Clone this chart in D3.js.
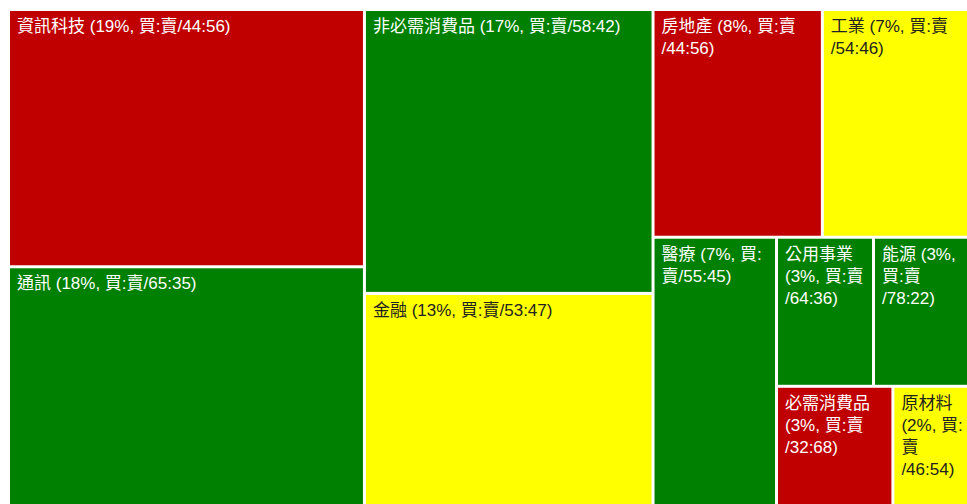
<!DOCTYPE html>
<html>
<head>
<meta charset="utf-8">
<script src="https://cdn.jsdelivr.net/npm/d3@7"></script>
<style>
  body { margin: 0; background: #fff; overflow: hidden; }
  text { font-family: "Liberation Sans", Arial, "Noto Sans CJK TC", sans-serif; font-size: 17px; }
</style>
</head>
<body>
<script>
// sector weights (% of market) and buy:sell split
const sectors = ['資訊科技', '通訊', '非必需消費品', '金融', '房地產', '工業', '醫療', '公用事業', '能源', '必需消費品', '原材料'];
const weights = [19, 18, 17, 13, 8, 7, 7, 3, 3, 3, 2];
const buyPct = [44, 65, 58, 53, 44, 54, 55, 64, 78, 32, 46];
const sellPct = [56, 35, 42, 47, 56, 46, 45, 36, 22, 68, 54];

const w = 967;
const h = 504;
const padLeft = 10;
const padTop = 11;
const boxW = 959;
const boxH = 498;

const color = d3.scaleThreshold()
  .domain([46, 55])
  .range(['#c00000', '#ffff00', '#008000']);
const textColor = d3.scaleThreshold()
  .domain([46, 55])
  .range(['#ffffff', '#222222', '#ffffff']);

// squarify variant: strips along the short side, last strip cut along the long side
const RATIO = 0.9;
function tile(parent, x0, y0, x1, y1) {
  const nodes = parent.children;
  const n = nodes.length;
  let value = parent.value;
  let i0 = 0;
  while (i0 < n) {
    const dx = x1 - x0, dy = y1 - y0;
    let i1 = i0;
    let sum = nodes[i1++].value;
    let minV = sum, maxV = sum;
    const alpha = Math.max(dy / dx, dx / dy) / (value * RATIO);
    let beta = sum * sum * alpha;
    let best = Math.max(maxV / beta, beta / minV);
    for (; i1 < n; ++i1) {
      const v = nodes[i1].value;
      const s = sum + v, mn = Math.min(minV, v), mx = Math.max(maxV, v);
      beta = s * s * alpha;
      const r = Math.max(mx / beta, beta / mn);
      if (r > best) break;
      sum = s; minV = mn; maxV = mx; best = r;
    }
    const row = { value: sum, children: nodes.slice(i0, i1) };
    const last = i1 === n;
    const dice = last ? dx >= dy : dx < dy;
    if (dice) {
      d3.treemapDice(row, x0, y0, x1, last ? y1 : (y0 += dy * sum / value));
    } else {
      d3.treemapSlice(row, x0, y0, last ? x1 : (x0 += dx * sum / value), y1);
    }
    value -= sum;
    i0 = i1;
  }
}

const data = sectors.map((name, i) => ({ name, weight: weights[i], buy: buyPct[i], sell: sellPct[i] }));

const root = d3.hierarchy({ children: data })
  .sum((d) => d.weight || 0)
  .sort((a, b) => b.value - a.value);

d3.treemap()
  .tile(tile)
  .size([boxW, boxH])
  .paddingInner(3)(root);

const svg = d3.select('body').append('svg').attr('width', w).attr('height', h);
const g = svg.append('g').attr('transform', `translate(${padLeft},${padTop})`);

const cell = g.selectAll('g')
  .data(root.leaves())
  .enter()
  .append('g')
  .attr('transform', (d) => `translate(${d.x0},${d.y0})`);

cell.append('rect')
  .attr('width', (d) => d.x1 - d.x0)
  .attr('height', (d) => d.y1 - d.y0)
  .attr('fill', (d) => color(d.data.buy));

// measure helper for wrapping
const probe = svg.append('text').attr('x', -1000).attr('y', -1000);
function measure(s) {
  probe.text(s);
  return probe.node().getComputedTextLength();
}

function wrap(label, maxW) {
  const tokens = label.match(/[\u3400-\u9fff][:：]?|\s+|\/[^\s\u3400-\u9fff]*|[^\s\u3400-\u9fff\/]+/g);
  const lines = [];
  let line = '';
  tokens.forEach((t) => {
    if (line === '' && /^\s+$/.test(t)) return;
    const test = line + t;
    if (line !== '' && measure(test.trimEnd()) > maxW) {
      lines.push(line.trimEnd());
      line = /^\s+$/.test(t) ? '' : t;
    } else {
      line = test;
    }
  });
  if (line.trim() !== '') lines.push(line.trimEnd());
  return lines;
}

cell.each(function (d) {
  const label = `${d.data.name} (${d.data.weight}%, 買:賣/${d.data.buy}:${d.data.sell})`;
  const lines = wrap(label, d.x1 - d.x0 - 10);
  const t = d3.select(this).append('text')
    .attr('x', 7)
    .attr('y', 21)
    .attr('fill', textColor(d.data.buy));
  t.selectAll('tspan')
    .data(lines)
    .enter()
    .append('tspan')
    .attr('x', 7)
    .attr('dy', (l, i) => (i === 0 ? 0 : 22))
    .text((l) => l);
});

probe.remove();
</script>
</body>
</html>
